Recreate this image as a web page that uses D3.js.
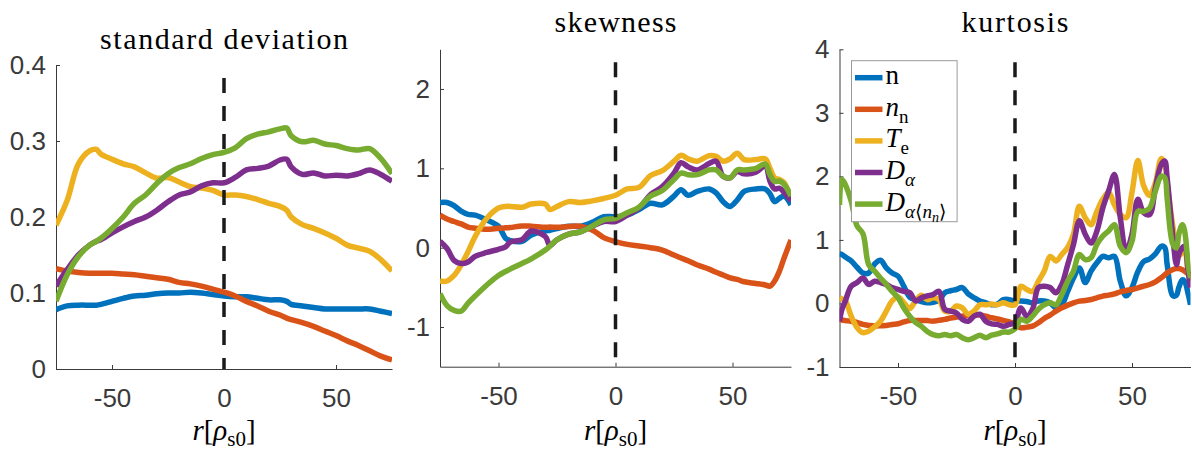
<!DOCTYPE html>
<html lang="en">
<head>
<meta charset="utf-8">
<title>Fluctuation statistics</title>
<style>
  body { margin: 0; background: #fff; }
  svg { display: block; }
  .tick text { font-family: "Liberation Sans", Arial, sans-serif; font-size: 26px; fill: #3a3a3a; }
  .domain, .tick line { stroke: #3a3a3a; stroke-width: 1; }
</style>
</head>
<body>
<svg width="1192" height="452"></svg>
<script src="https://d3js.org/d3.v7.min.js"></script>
<script>
  // series order: n, n_n, T_e, D_alpha, D_alpha<n_n>
  const colors = ["#0072BD", "#D95319", "#EDB120", "#7E2F8E", "#77AC30"];
  const xTicks = [-50, 0, 50];
  const serifFont = "'Liberation Serif', 'DejaVu Serif', serif";

  // --- standard deviation ---
  const rStd = [-75,-70,-65,-60,-57,-55,-50,-45,-40,-35,-30,-25,-20,-15,-10,-5,0,5,10,15,20,25,28,30,35,40,45,50,55,60,65,70,75];
  const stdN    = [.078,.083,.084,.084,.084,.085,.089,.093,.096,.097,.099,.100,.100,.101,.100,.098,.096,.095,.095,.093,.091,.091,.089,.085,.083,.081,.079,.079,.079,.079,.079,.076,.073];
  const stdNn   = [.132,.129,.127,.126,.126,.126,.126,.125,.124,.122,.120,.118,.114,.112,.109,.105,.101,.096,.089,.083,.076,.071,.067,.065,.061,.056,.050,.044,.037,.031,.024,.017,.012];
  const stdTe   = [.189,.222,.270,.287,.289,.283,.276,.270,.266,.258,.251,.252,.246,.240,.238,.235,.229,.229,.227,.223,.218,.214,.209,.200,.190,.185,.179,.172,.163,.159,.155,.144,.129];
  const stdDa   = [.109,.131,.150,.163,.168,.170,.179,.187,.194,.200,.209,.220,.229,.233,.241,.245,.245,.252,.262,.264,.267,.275,.276,.266,.256,.258,.254,.255,.254,.257,.262,.256,.247];
  const stdDann = [.089,.124,.148,.163,.168,.172,.185,.200,.218,.229,.244,.257,.265,.270,.277,.282,.285,.291,.303,.309,.312,.316,.317,.307,.299,.301,.296,.294,.290,.288,.290,.277,.257];

  // --- skewness ---
  const rSkew = [-75,-72,-69,-66,-63,-60,-55,-50,-47,-45,-40,-36,-30,-28,-25,-20,-15,-10,-5,0,5,10,15,20,25,28,31,35,40,43,46,49,52,55,60,64,66,68,70,72,75];
  const skewN    = [.57,.57,.53,.46,.42,.41,.35,.27,.12,.09,.08,.16,.21,.22,.24,.27,.27,.32,.39,.39,.41,.48,.56,.54,.65,.73,.66,.71,.74,.69,.58,.52,.60,.71,.74,.74,.68,.58,.62,.65,.54];
  const skewNn   = [.41,.36,.33,.30,.26,.245,.232,.245,.25,.253,.274,.27,.257,.26,.257,.266,.27,.224,.127,.076,.042,.021,0,-.03,-.093,-.13,-.165,-.219,-.27,-.31,-.345,-.38,-.40,-.43,-.451,-.47,-.485,-.42,-.30,-.135,.097];
  const skewTe   = [-.42,-.42,-.35,-.22,-.05,.14,.37,.50,.52,.52,.51,.55,.55,.48,.52,.58,.57,.59,.62,.66,.74,.76,.91,.97,1.09,1.165,1.12,1.09,1.16,1.15,1.09,1.12,1.19,1.11,1.11,1.12,1.0,.88,.86,.82,.62];
  const skewDa   = [.08,-.01,-.16,-.20,-.18,-.11,-.06,-.02,.01,.07,.10,.21,.14,.03,.10,.17,.20,.27,.33,.33,.41,.50,.67,.77,.94,1.07,1.02,.98,1.06,1.09,.90,.88,.96,.93,.95,1.03,.84,.74,.75,.70,.59];
  const skewDann = [-.58,-.73,-.79,-.80,-.70,-.61,-.47,-.35,-.30,-.27,-.20,-.14,-.03,.02,.10,.17,.20,.27,.35,.37,.44,.51,.65,.72,.86,.94,.92,.92,.98,.98,.90,.88,.98,.98,1.0,1.055,.92,.835,.84,.80,.65];

  // --- kurtosis ---
  const rKurt = [-75,-74,-72.5,-70,-67.5,-65,-62.5,-60,-57.5,-55,-52.5,-50,-47.5,-45,-42.5,-40,-37.5,-35,-32.5,-30,-27.5,-25,-22.5,-20,-17.5,-15,-12.5,-10,-7.5,-5,-2.5,0,
                 2.5,5,7.5,10,12.5,15,17.5,20,22.5,25,27.5,30,32.5,35,37.5,40,42.5,45,47.5,50,52.5,55,57.5,60,62.5,64,65,67.5,69,70,71.5,72.5,74,75];
  const kurtN    = [.78,.77,.73,.67,.57,.48,.48,.62,.68,.56,.48,.43,.27,.10,.06,.03,.01,.02,.05,.17,.20,.22,.25,.15,.09,.04,.01,-.02,-.01,.06,.06,.04,
                    .04,.03,.01,.04,.04,.01,-.07,-.02,.19,.40,.56,.33,.51,.64,.74,.72,.74,.35,.12,.25,.50,.66,.70,.78,.90,.88,.62,.12,.13,.25,.37,.35,.15,-.02];
  const kurtNn   = [-.25,-.26,-.27,-.28,-.30,-.33,-.345,-.356,-.35,-.346,-.33,-.32,-.29,-.267,-.267,-.267,-.27,-.278,-.265,-.25,-.23,-.215,-.20,-.183,-.18,-.183,-.20,-.225,-.245,-.267,-.29,-.33,
                    -.383,-.372,-.356,-.304,-.236,-.183,-.12,-.068,-.026,.01,.037,.047,.063,.089,.115,.131,.152,.183,.204,.22,.246,.273,.299,.341,.404,.45,.482,.535,.55,.55,.53,.508,.47,.456];
  const kurtTe   = [.09,.07,.04,-.20,-.38,-.46,-.435,-.37,-.28,-.12,.04,.10,.01,-.08,.04,.13,.06,.09,.06,-.12,-.12,-.04,-.07,-.17,-.12,-.02,-.02,-.01,-.02,.01,-.02,-.02,
                    .27,.22,.19,.35,.51,.74,.67,.77,.88,1.09,1.53,1.35,1.24,1.45,1.64,1.75,1.55,1.40,1.35,1.75,2.25,1.85,1.70,1.90,2.28,2.20,1.90,1.20,.90,.75,.80,.85,.50,.35];
  const kurtDa   = [-.28,-.10,.04,.27,.33,.40,.30,.35,.33,.30,.25,.22,.19,.17,.04,.09,.12,.14,.19,-.09,-.12,-.15,-.25,-.28,-.20,-.17,-.28,-.32,-.33,-.36,-.33,-.30,
                    -.07,-.20,-.09,.25,.27,.25,.17,.30,.61,.93,1.30,1.09,.95,1.14,1.50,1.77,2.03,1.35,.82,1.09,1.64,1.43,1.40,1.82,2.19,2.24,1.98,1.03,.61,.77,.88,.90,.50,.25];
  const kurtDann = [1.55,1.95,1.87,1.61,1.22,1.10,.61,.51,.40,.30,.19,.09,-.07,-.20,-.30,-.36,-.44,-.49,-.51,-.49,-.51,-.49,-.54,-.57,-.54,-.50,-.54,-.50,-.48,-.45,-.45,-.40,
                    -.25,-.28,-.20,-.09,-.02,.01,-.02,.14,.35,.51,.77,.69,.72,.93,1.06,1.14,1.24,.90,.80,.98,1.45,1.45,1.50,1.77,2.00,1.98,1.66,.93,.88,1.09,1.24,1.14,.61,.40];

  const svg = d3.select("svg");

  const panels = [
    { left: 56, right: 392, top: 65, bottom: 369, yDomain: [0, 0.4], yTicks: [0, 0.1, 0.2, 0.3, 0.4],
      title: "standard deviation", titleY: 49, titleLen: 248,
      r: rStd, series: [stdN, stdNn, stdTe, stdDa, stdDann] },
    { left: 440, right: 791, top: 49.3, bottom: 366.7, yDomain: [-1.5, 2.5], yTicks: [-1, 0, 1, 2],
      title: "skewness", titleY: 32, titleLen: 122,
      r: rSkew, series: [skewN, skewNn, skewTe, skewDa, skewDann] },
    { left: 839.5, right: 1190.5, top: 49.3, bottom: 367, yDomain: [-1, 4], yTicks: [-1, 0, 1, 2, 3, 4],
      title: "kurtosis", titleY: 32, titleLen: 107, legend: true,
      r: rKurt, series: [kurtN, kurtNn, kurtTe, kurtDa, kurtDann] }
  ];

  panels.forEach((p, pi) => {
    const x = d3.scaleLinear().domain([-75, 75]).range([p.left, p.right]);
    const y = d3.scaleLinear().domain(p.yDomain).range([p.bottom, p.top]);
    const g = svg.append("g");

    g.append("clipPath").attr("id", "clip" + pi)
      .append("rect")
      .attr("x", p.left).attr("y", 0)
      .attr("width", p.right - p.left).attr("height", 452);

    // axes (box off, ticks pointing in)
    g.append("g")
      .attr("transform", `translate(0,${p.bottom})`)
      .call(d3.axisBottom(x).tickValues(xTicks).tickFormat(d => String(d))
        .tickSize(-4).tickSizeOuter(0).tickPadding(20));
    g.append("g")
      .attr("transform", `translate(${p.left},0)`)
      .call(d3.axisLeft(y).tickValues(p.yTicks).tickFormat(d => String(d))
        .tickSize(-4).tickSizeOuter(0).tickPadding(10));

    const line = d3.line()
      .x((d, i) => x(p.r[i]))
      .y(d => y(d))
      .curve(d3.curveCatmullRom.alpha(0.5));

    const plot = g.append("g").attr("clip-path", `url(#clip${pi})`);
    p.series.forEach((vals, si) => {
      plot.append("path")
        .attr("d", line(vals))
        .attr("fill", "none")
        .attr("stroke", colors[si])
        .attr("stroke-width", 5.5)
        .attr("stroke-linejoin", "round");
    });

    // dashed line at r = 0
    plot.append("line")
      .attr("x1", x(0)).attr("x2", x(0))
      .attr("y1", y(p.yDomain[1])).attr("y2", y(p.yDomain[0]))
      .attr("stroke", "#1a1a1a")
      .attr("stroke-width", 3.5)
      .attr("stroke-dasharray", "15 13")
      .attr("stroke-dashoffset", 15);

    // title
    g.append("text")
      .attr("x", (p.left + p.right) / 2).attr("y", p.titleY)
      .attr("text-anchor", "middle")
      .attr("textLength", p.titleLen).attr("lengthAdjust", "spacing")
      .attr("font-family", serifFont)
      .attr("font-size", 30)
      .attr("fill", "#000")
      .text(p.title);

    // x label  r[rho_s0]
    const xl = g.append("text")
      .attr("x", (p.left + p.right) / 2).attr("y", 440)
      .attr("text-anchor", "middle")
      .attr("font-family", serifFont)
      .attr("font-size", 29)
      .attr("fill", "#000");
    xl.append("tspan").attr("font-style", "italic").text("r");
    xl.append("tspan").text("[");
    xl.append("tspan").attr("font-style", "italic").text("ρ");
    xl.append("tspan").attr("dy", 6).attr("font-size", 21).text("s0");
    xl.append("tspan").attr("dy", -6).text("]");

    if (p.legend) drawLegend(g, p.left + 12, 60.7);
  });

  function drawLegend(g, lx, ly) {
    // [text, style] style: "" upright, i italic, s sub, si sub italic, ssi subsub italic
    const legendParts = [
      [["n", ""]],
      [["n", "i"], ["n", "s"]],
      [["T", "i"], ["e", "s"]],
      [["D", "i"], ["α", "si"]],
      [["D", "i"], ["α", "si"], ["⟨", "s"], ["n", "si"], ["n", "ssi"], ["⟩", "s"]]
    ];
    const boxW = 105.6, boxH = 161, rowH = 31.6;
    const offs = [0, 7, 11];
    const lg = g.append("g");
    lg.append("rect")
      .attr("x", lx).attr("y", ly).attr("width", boxW).attr("height", boxH)
      .attr("fill", "#fff").attr("stroke", "#999").attr("stroke-width", 1);

    legendParts.forEach((parts, i) => {
      const cy = ly + 17 + i * rowH;
      lg.append("line")
        .attr("x1", lx + 3.5).attr("x2", lx + 31)
        .attr("y1", cy).attr("y2", cy)
        .attr("stroke", colors[i]).attr("stroke-width", 5.5);
      const t = lg.append("text")
        .attr("x", lx + 34).attr("y", cy + 6.5)
        .attr("font-family", serifFont)
        .attr("font-size", 27)
        .attr("fill", "#000");
      let level = 0;
      parts.forEach(([txt, st]) => {
        const want = st.startsWith("ss") ? 2 : st.startsWith("s") ? 1 : 0;
        const ts = t.append("tspan").text(txt);
        if (want !== level) ts.attr("dy", offs[want] - offs[level]);
        level = want;
        ts.attr("font-size", want === 2 ? 14 : want === 1 ? 19 : 27);
        if (st.includes("i")) ts.attr("font-style", "italic");
      });
    });
  }
</script>
</body>
</html>
